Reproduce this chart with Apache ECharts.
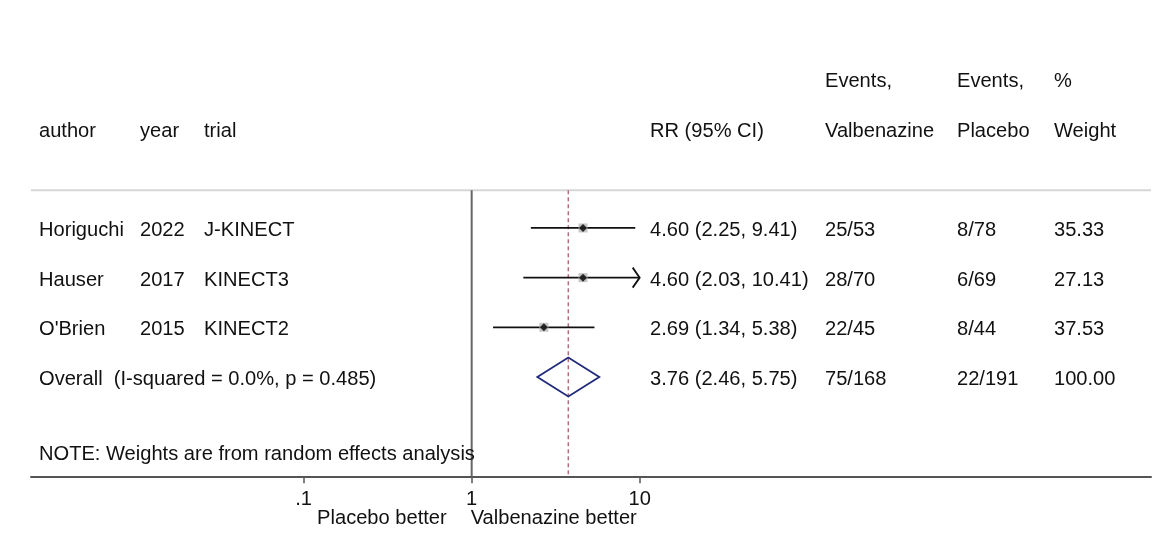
<!DOCTYPE html>
<html>
<head>
<meta charset="utf-8">
<script src="https://cdn.jsdelivr.net/npm/echarts@6/dist/echarts.min.js"></script>
<style>
html,body{margin:0;padding:0;background:#fff;}
#chart{width:1159px;height:542px;}
</style>
</head>
<body>
<div id="chart"></div>
<script>
// ---- data ----
const authors = ['Horiguchi', 'Hauser', "O'Brien"];
const years = ['2022', '2017', '2015'];
const trials = ['J-KINECT', 'KINECT3', 'KINECT2'];
const rr = [4.60, 4.60, 2.69];
const ciLow = [2.25, 2.03, 1.34];
const ciHigh = [9.41, 10.41, 5.38];
const eventsValbenazine = ['25/53', '28/70', '22/45'];
const eventsPlacebo = ['8/78', '6/69', '8/44'];
const weights = ['35.33', '27.13', '37.53'];
const overallLabel = 'Overall  (I-squared = 0.0%, p = 0.485)';
const overallRR = 3.76, overallLow = 2.46, overallHigh = 5.75;
const overallEventsV = '75/168', overallEventsP = '22/191', overallWeight = '100.00';
const headerTop = ['', '', '', '', 'Events,', 'Events,', '%'];
const headerBottom = ['author', 'year', 'trial', 'RR (95% CI)', 'Valbenazine', 'Placebo', 'Weight'];
const noteText = 'NOTE: Weights are from random effects analysis';
const tickValues = [0.1, 1, 10];
const tickLabels = ['.1', '1', '10'];
const favourLeft = 'Placebo better';
const favourRight = 'Valbenazine better';
const axisMaxRR = 10;

// ---- layout ----
const FS = 20.1;
const FONT = FS + 'px "Liberation Sans", Arial, sans-serif';
const TXT = '#111111';
const colX = [39, 140, 204, 650, 825, 957, 1054];
const TEXT_DY = 2.5;
const xMin = -2.623, xMax = 4.0435;
const lineRow = -0.76, axisRow = 5;
const lg = v => Math.log10(v);
const fmt = v => v.toFixed(2);

const textRows = [{ row: -3, cells: headerTop }, { row: -2, cells: headerBottom }];
authors.forEach((a, i) => {
  textRows.push({ row: i, cells: [a, years[i], trials[i],
    fmt(rr[i]) + ' (' + fmt(ciLow[i]) + ', ' + fmt(ciHigh[i]) + ')',
    eventsValbenazine[i], eventsPlacebo[i], weights[i]] });
});
const overallRow = authors.length;
textRows.push({ row: overallRow, cells: [overallLabel, '', '',
  fmt(overallRR) + ' (' + fmt(overallLow) + ', ' + fmt(overallHigh) + ')',
  overallEventsV, overallEventsP, overallWeight] });
textRows.push({ row: 4.5, cells: [noteText] });

const chart = echarts.init(document.getElementById('chart'), null, { renderer: 'canvas' });

const option = {
  animation: false,
  backgroundColor: '#fff',
  grid: { left: 31, right: 8, top: 29.3, height: 447, containLabel: false },
  xAxis: {
    type: 'value', min: xMin, max: xMax,
    axisLine: { show: true, onZero: false, lineStyle: { color: '#555', width: 2 } },
    axisTick: { show: true, customValues: tickValues.map(lg), length: 7, lineStyle: { color: '#555', width: 1.5 } },
    axisLabel: {
      show: true, customValues: tickValues.map(lg), margin: 13,
      color: TXT, fontSize: FS, fontFamily: '"Liberation Sans", Arial, sans-serif',
      formatter: v => { const i = tickValues.findIndex(t => Math.abs(lg(t) - v) < 1e-6); return i >= 0 ? tickLabels[i] : ''; }
    },
    splitLine: { show: false }
  },
  yAxis: { type: 'value', inverse: true, min: -4, max: 5, show: false },
  series: [
    // top separator and reference lines
    {
      type: 'custom', clip: false, silent: true, z: 1,
      data: [[0]],
      renderItem: (params, api) => {
        const a = api.coord([xMin, lineRow]), b = api.coord([xMax, lineRow]);
        const n1 = api.coord([lg(1), lineRow]), n2 = api.coord([lg(1), axisRow]);
        const d1 = api.coord([lg(overallRR), lineRow]), d2 = api.coord([lg(overallRR), axisRow]);
        return { type: 'group', children: [
          { type: 'line', shape: { x1: a[0], y1: a[1], x2: b[0], y2: b[1] }, style: { stroke: '#d6d6d6', lineWidth: 2 } },
          { type: 'line', shape: { x1: n1[0], y1: n1[1], x2: n2[0], y2: n2[1] }, style: { stroke: '#666', lineWidth: 2 } },
          { type: 'line', shape: { x1: d1[0], y1: d1[1], x2: d2[0], y2: d2[1] }, style: { stroke: '#b56e7c', lineWidth: 1.5, lineDash: [4, 3] } }
        ] };
      }
    },
    // confidence intervals
    {
      type: 'custom', clip: false, silent: true, z: 2,
      data: rr.map((v, i) => [lg(ciLow[i]), lg(Math.min(ciHigh[i], axisMaxRR)), i, ciHigh[i] > axisMaxRR ? 1 : 0]),
      renderItem: (params, api) => {
        const p1 = api.coord([api.value(0), api.value(2)]);
        const p2 = api.coord([api.value(1), api.value(2)]);
        const ch = [{ type: 'line', shape: { x1: p1[0], y1: p1[1], x2: p2[0], y2: p2[1] }, style: { stroke: '#111', lineWidth: 1.8 } }];
        if (api.value(3)) {
          ch.push({ type: 'polyline', shape: { points: [[p2[0] - 7, p2[1] - 10], [p2[0], p2[1]], [p2[0] - 7, p2[1] + 10]] }, style: { stroke: '#111', lineWidth: 1.8, fill: null } });
        }
        return { type: 'group', children: ch };
      }
    },
    // weight boxes
    {
      type: 'scatter', silent: true, z: 3, symbol: 'rect', symbolSize: 9,
      itemStyle: { color: '#b8b8b8' },
      data: rr.map((v, i) => [lg(v), i])
    },
    // point estimates
    {
      type: 'scatter', silent: true, z: 4, symbol: 'diamond', symbolSize: 8,
      itemStyle: { color: '#000' },
      data: rr.map((v, i) => [lg(v), i])
    },
    // overall diamond
    {
      type: 'custom', clip: false, silent: true, z: 3,
      data: [[lg(overallLow), lg(overallRR), lg(overallHigh), overallRow]],
      renderItem: (params, api) => {
        const r = api.value(3);
        const l = api.coord([api.value(0), r]), c = api.coord([api.value(1), r]), h = api.coord([api.value(2), r]);
        const hh = 19.5;
        return { type: 'polygon', shape: { points: [[l[0], l[1]], [c[0], c[1] - hh], [h[0], h[1]], [c[0], c[1] + hh]] },
          style: { stroke: '#1f2a7a', lineWidth: 1.8, fill: null } };
      }
    },
    // table text
    {
      type: 'custom', clip: false, silent: true, z: 5,
      data: textRows.map(r => [0, r.row]),
      renderItem: (params, api) => {
        const y = api.coord([0, api.value(1)])[1] + TEXT_DY;
        const cells = textRows[params.dataIndex].cells;
        return { type: 'group', children: cells.map((t, i) => ({
          type: 'text', style: { x: colX[i], y: y, text: t, font: FONT, fill: TXT, textAlign: 'left', textVerticalAlign: 'middle' }
        })) };
      }
    },
    // favour labels
    {
      type: 'custom', clip: false, silent: true, z: 5,
      data: [[lg(1), 5.79]],
      renderItem: (params, api) => {
        const p = api.coord([api.value(0), api.value(1)]);
        return { type: 'group', children: [
          { type: 'text', style: { x: p[0] - 25, y: p[1] + TEXT_DY, text: favourLeft, font: FONT, fill: TXT, textAlign: 'right', textVerticalAlign: 'middle' } },
          { type: 'text', style: { x: p[0] - 1, y: p[1] + TEXT_DY, text: favourRight, font: FONT, fill: TXT, textAlign: 'left', textVerticalAlign: 'middle' } }
        ] };
      }
    }
  ]
};
chart.setOption(option);
</script>
</body>
</html>
